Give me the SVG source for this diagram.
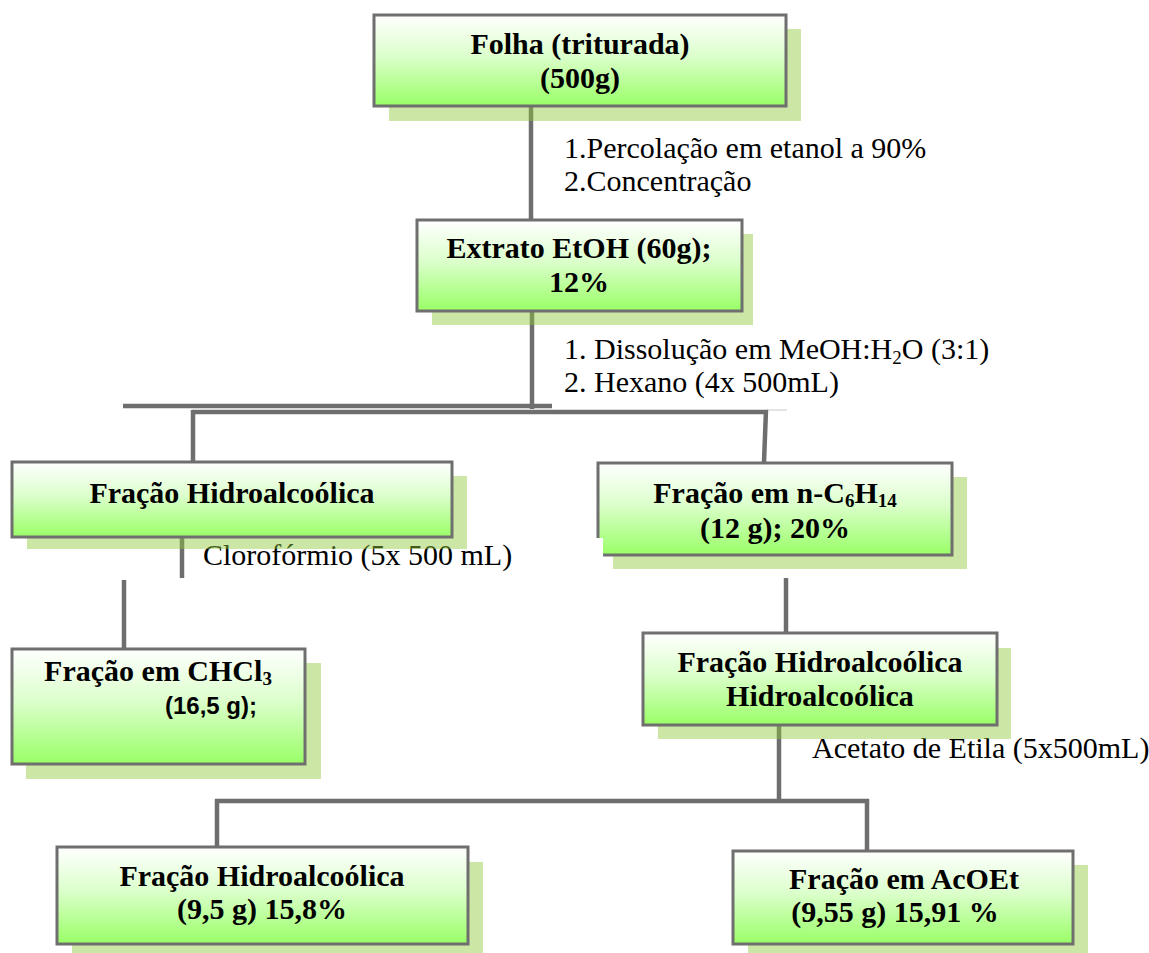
<svg xmlns="http://www.w3.org/2000/svg" width="1149" height="953" viewBox="0 0 1149 953">
<defs>
<linearGradient id="g" x1="0" y1="0" x2="0" y2="1">
<stop offset="0" stop-color="#ffffff"/>
<stop offset="0.45" stop-color="#dcffcc"/>
<stop offset="1" stop-color="#99ff66"/>
</linearGradient>
<style>
.box{fill:url(#g);stroke:#6f6f6f;stroke-width:3}
.sh{fill:#8ec83a;fill-opacity:0.45}
.b{font-family:"Liberation Serif",serif;font-weight:bold;font-size:30px;fill:#000;text-anchor:middle}
.r{font-family:"Liberation Serif",serif;font-size:30px;fill:#000}
.s{font-size:19px}
.c{stroke:#6e6e6e;stroke-width:4.5;fill:none}
</style>
</defs>
<rect width="1149" height="953" fill="#fff"/>
<g id="connectors">
<line class="c" x1="531" y1="106" x2="531" y2="220"/>
<line class="c" x1="532" y1="311" x2="532" y2="409"/>
<line class="c" x1="123" y1="406" x2="552" y2="406"/>
<line x1="767" y1="410" x2="787" y2="410" stroke="#c8c8c8" stroke-width="1"/>
<line class="c" x1="192" y1="412" x2="768" y2="412"/>
<line class="c" x1="193" y1="410" x2="193" y2="462"/>
<line class="c" x1="766" y1="410" x2="764" y2="462"/>
<line class="c" x1="182" y1="537" x2="182" y2="578"/>
<line class="c" x1="124" y1="580" x2="124" y2="649"/>
<line class="c" x1="786" y1="578" x2="786" y2="633"/>
<line class="c" x1="779" y1="725" x2="779" y2="801"/>
<line class="c" x1="215" y1="801" x2="869" y2="801"/>
<line class="c" x1="217" y1="799" x2="217" y2="847"/>
<line class="c" x1="867" y1="799" x2="867" y2="851"/>
</g>
<g id="labels">
<text class="r" x="564" y="158">1.Percolação em etanol a 90%</text>
<text class="r" x="564" y="191">2.Concentração</text>
<text class="r" x="564" y="359">1. Dissolução em MeOH:H<tspan class="s" dy="5">2</tspan><tspan dy="-5">O (3:1)</tspan></text>
<text class="r" x="564" y="392">2. Hexano (4x 500mL)</text>
<text class="r" x="203" y="565">Clorofórmio (5x 500 mL)</text>
<text class="r" x="812" y="758">Acetato de Etila (5x500mL)</text>
</g>
<g id="n1">
<rect class="sh" x="389" y="29" width="412" height="92"/>
<rect class="box" x="374" y="15" width="412" height="91"/>
<text class="b" x="580" y="54">Folha (triturada)</text>
<text class="b" x="580" y="88">(500g)</text>
</g>
<g id="n2">
<rect class="sh" x="432" y="234" width="321" height="91"/>
<rect class="box" x="417" y="220" width="325" height="91"/>
<text class="b" x="579" y="258">Extrato EtOH (60g);</text>
<text class="b" x="579" y="292">12%</text>
</g>
<g id="n3">
<rect class="sh" x="27" y="476" width="440" height="73"/>
<rect class="box" x="12" y="462" width="440" height="75"/>
<text class="b" x="232" y="503">Fração Hidroalcoólica</text>
</g>
<g id="n4">
<rect class="sh" x="613" y="477" width="354" height="92"/>
<rect class="box" x="598" y="463" width="354" height="92"/>
<rect x="594" y="538" width="9" height="19" fill="#fff"/>
<text class="b" x="775" y="503">Fração em n-C<tspan class="s" dy="4">6</tspan><tspan dy="-4">H</tspan><tspan class="s" dy="4">14</tspan></text>
<text class="b" x="775" y="538">(12 g); 20%</text>
</g>
<g id="n5">
<rect class="sh" x="26" y="663" width="295" height="116"/>
<rect class="box" x="12" y="649" width="293" height="115"/>
<text class="b" x="158" y="681">Fração em CHCl<tspan class="s" dy="4">3</tspan></text>
<text x="165" y="714" font-family="'Liberation Sans',sans-serif" font-weight="bold" font-size="24">(16,5 g);</text>
</g>
<g id="n6">
<rect class="sh" x="658" y="648" width="353" height="91"/>
<rect class="box" x="643" y="633" width="354" height="92"/>
<text class="b" x="820" y="672">Fração Hidroalcoólica</text>
<text class="b" x="820" y="706">Hidroalcoólica</text>
</g>
<g id="n7">
<rect class="sh" x="72" y="862" width="411" height="91"/>
<rect class="box" x="57" y="847" width="411" height="97"/>
<text class="b" x="262" y="886">Fração Hidroalcoólica</text>
<text class="b" x="262" y="919">(9,5 g) 15,8%</text>
</g>
<g id="n8">
<rect class="sh" x="748" y="865" width="340" height="88"/>
<rect class="box" x="733" y="851" width="340" height="93"/>
<text class="b" x="904" y="889">Fração em AcOEt</text>
<text class="b" x="895" y="922">(9,55 g) 15,91 %</text>
</g>
</svg>
